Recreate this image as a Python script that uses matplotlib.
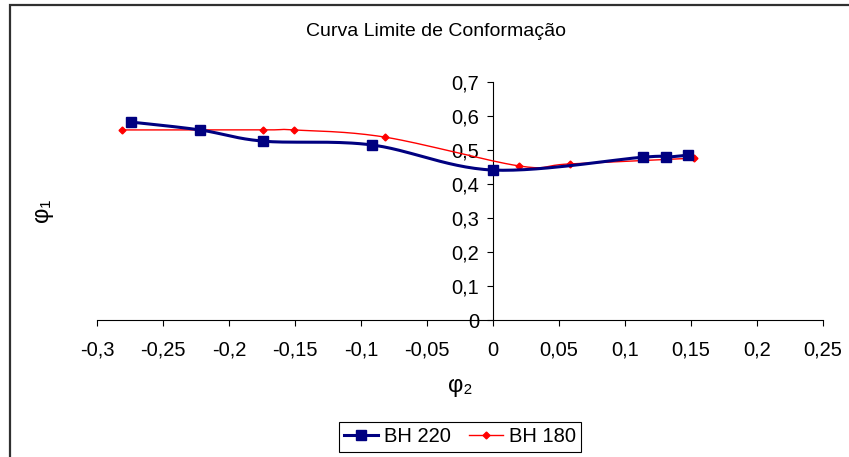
import numpy as np
import matplotlib.pyplot as plt
from matplotlib.patches import Rectangle
from matplotlib.ticker import FuncFormatter, MultipleLocator

plt.rcParams['font.family'] = ['Liberation Sans', 'DejaVu Sans']

# data (phi2, phi1)
bh220_x = [-0.274, -0.222, -0.174, -0.092, 0.0, 0.114, 0.131, 0.148]
bh220_y = [0.582, 0.559, 0.526, 0.515, 0.441, 0.479, 0.479, 0.485]
bh180_x = [-0.281, -0.174, -0.151, -0.082, 0.020, 0.058, 0.152]
bh180_y = [0.559, 0.559, 0.559, 0.538, 0.453, 0.459, 0.476]


def smooth(xs, ys, n=30):
    # excel-style smoothed line: cubic bezier through the points
    p = np.column_stack([xs, ys])
    pad = np.vstack([p[0], p, p[-1]])
    out = []
    t = np.linspace(0, 1, n)[:, None]
    for i in range(len(p) - 1):
        p0, p1 = pad[i + 1], pad[i + 2]
        c1 = p0 + (pad[i + 2] - pad[i]) / 6
        c2 = p1 - (pad[i + 3] - pad[i + 1]) / 6
        seg = ((1 - t) ** 3) * p0 + 3 * ((1 - t) ** 2) * t * c1 + 3 * (1 - t) * t ** 2 * c2 + t ** 3 * p1
        out.append(seg)
    out = np.vstack(out)
    return out[:, 0], out[:, 1]


fig = plt.figure(figsize=(8.49, 4.57), dpi=100)
W, H = 849, 457
ax = fig.add_axes([97 / W, (H - 320) / H, (823 - 97) / W, (320 - 82) / H])

# outer chart border (cropped on right and bottom)
fig.patches.append(Rectangle((10 / W, -0.1), 1.2, (H - 5) / H + 0.1, transform=fig.transFigure,
                             fill=False, edgecolor='#303030', linewidth=1.6))

sx, sy = smooth(bh180_x, bh180_y)
ax.plot(sx, sy, color='red', linewidth=1.0, zorder=3)
ax.plot(bh180_x, bh180_y, linestyle='none', marker='D', markersize=3.5, color='red', zorder=3)
sx, sy = smooth(bh220_x, bh220_y)
ax.plot(sx, sy, color='#000080', linewidth=2.2, zorder=4)
ax.plot(bh220_x, bh220_y, linestyle='none', marker='s', markersize=6.5, color='#000080', zorder=4)

# legend handles
ax.plot([], [], color='#000080', linewidth=2.2, marker='s', markersize=6.5, label='BH 220')
ax.plot([], [], color='red', linewidth=1.0, marker='D', markersize=3.5, label='BH 180')

ax.set_xlim(-0.3, 0.25)
ax.set_ylim(0, 0.7)
ax.xaxis.set_major_locator(MultipleLocator(0.05))
ax.yaxis.set_major_locator(MultipleLocator(0.1))
fmt = FuncFormatter(lambda v, pos: ('%g' % round(v, 3)).replace('.', ',') if abs(v) > 1e-9 else '0')
ax.xaxis.set_major_formatter(fmt)
ax.yaxis.set_major_formatter(fmt)

ax.spines['top'].set_visible(False)
ax.spines['right'].set_visible(False)
ax.spines['left'].set_position(('data', 0))
ax.spines['left'].set_linewidth(0.8)
ax.spines['bottom'].set_linewidth(0.8)
ax.patch.set_alpha(0)
ax.tick_params(axis='x', direction='out', length=4, width=0.8, pad=11, labelsize=14.5)
ax.tick_params(axis='y', direction='out', length=4, width=0.8, pad=6, labelsize=14.5)

fig.text(436 / W, 1 - 31 / H, 'Curva Limite de Conformação', ha='center', va='center', fontsize=14)
fig.text(460 / W, 1 - 386 / H, 'φ₂', ha='center', va='center', fontsize=17)
fig.text(42 / W, 1 - 210 / H, 'φ₁', ha='center', va='center', fontsize=17, rotation=90)

leg = fig.legend(loc='center', bbox_to_anchor=(460 / W, 1 - 437 / H), ncol=2, fontsize=14.5,
                 frameon=True, fancybox=False, edgecolor='black', framealpha=1,
                 handlelength=1.7, handletextpad=0.3, columnspacing=0.9,
                 borderpad=0.25)
leg.get_frame().set_linewidth(0.8)

fig.savefig('out.png', dpi=100)
